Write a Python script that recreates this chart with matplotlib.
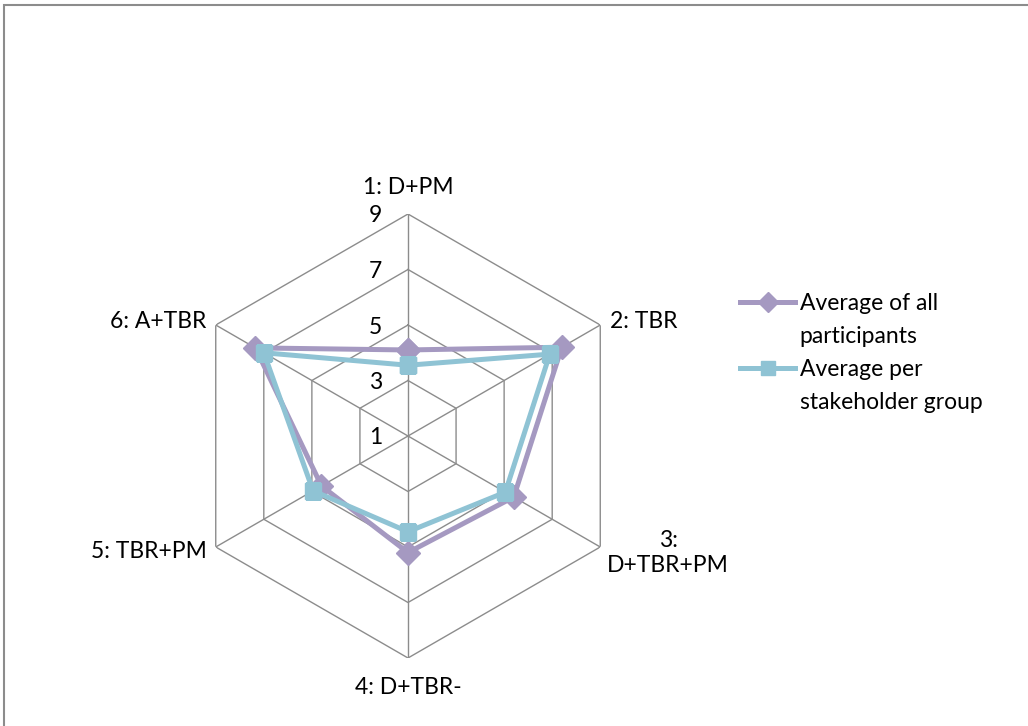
import numpy as np
import matplotlib
matplotlib.use("Agg")
import matplotlib.pyplot as plt
from matplotlib.lines import Line2D
from matplotlib.patches import Rectangle

plt.rcParams['font.family'] = ['Lato', 'DejaVu Sans']

# ---------------- data ----------------
categories = ["1: D+PM", "2: TBR", "3:\nD+TBR+PM", "4: D+TBR-", "5: TBR+PM", "6: A+TBR"]
all_participants = [4.1, 7.4, 5.4, 5.2, 4.6, 7.35]
per_group = [3.55, 6.9, 5.05, 4.45, 4.95, 7.0]
ticks = [1, 3, 5, 7, 9]
series_names = ["Average of all participants", "Average per stakeholder group"]

purple = "#A599C1"
blue = "#8FC3D4"
grid_col = "#8C8C8C"
fs = 16.5

# ---------------- figure ----------------
fig = plt.figure(figsize=(10.28, 7.26), dpi=100)
fig.patches.append(Rectangle((4 / 1028, -0.1), 1.2, (726 - 5) / 726 + 0.1,
                             transform=fig.transFigure, fill=False,
                             edgecolor="#8C8C8C", lw=1.5))

ax = fig.add_axes([186 / 1028, 68 / 726, 444 / 1028, 444 / 726], projection="polar")
ax.set_theta_zero_location("N")
ax.set_theta_direction(-1)
ax.set_ylim(1, 9)
ax.grid(False)
ax.spines["polar"].set_visible(False)
ax.set_xticks([])
ax.set_yticks([])
ax.patch.set_alpha(0)

n = len(categories)
theta = np.arange(n) * 2 * np.pi / n
theta_c = np.append(theta, theta[0])

# hexagon grid
for t in ticks[1:]:
    ax.plot(theta_c, [t] * (n + 1), color=grid_col, lw=1, zorder=1)
for th in theta:
    ax.plot([th, th], [1, 9], color=grid_col, lw=1, zorder=1)

# tick labels along the top axis
for t in ticks:
    ax.annotate(str(t), xy=(0, t), xytext=(-26, -2), textcoords="offset pixels",
                ha="right", va="center", fontsize=fs)

# series
v1 = np.append(all_participants, all_participants[0])
v2 = np.append(per_group, per_group[0])
ax.plot(theta_c, v1, color=purple, lw=3.6, marker="D", ms=12, zorder=3)
ax.plot(theta_c, v2, color=blue, lw=3.6, marker="s", ms=12, zorder=4)

# category labels
offsets = [(0, 27, "center", "center"),
           (10, 3, "left", "center"),
           (68, -6, "center", "center"),
           (0, -29, "center", "center"),
           (-9, -5, "right", "center"),
           (-9, 3, "right", "center")]
for th, lab, (dx, dy, ha, va) in zip(theta, categories, offsets):
    ax.annotate(lab, xy=(th, 9), xytext=(dx, dy), textcoords="offset pixels",
                ha=ha, va=va, fontsize=fs, multialignment="center")

# legend (two-line labels, handle on first line)
blank = Line2D([], [], color="none")
h1 = Line2D([], [], color=purple, lw=3.6, marker="D", ms=10)
h2 = Line2D([], [], color=blue, lw=3.6, marker="s", ms=10)
lab1 = series_names[0].rsplit(" ", 1)
lab2 = series_names[1].split(" ", 2)
fig.legend([h1, blank, h2, blank],
           [lab1[0], lab1[1], " ".join(lab2[:2]), lab2[2]],
           loc="upper left", bbox_to_anchor=(740 / 1028, 1 - 293 / 726),
           frameon=False, fontsize=fs, handlelength=2.4, handletextpad=0.2,
           labelspacing=0.52, borderaxespad=0, borderpad=0)

fig.savefig("out.png", dpi=100)
